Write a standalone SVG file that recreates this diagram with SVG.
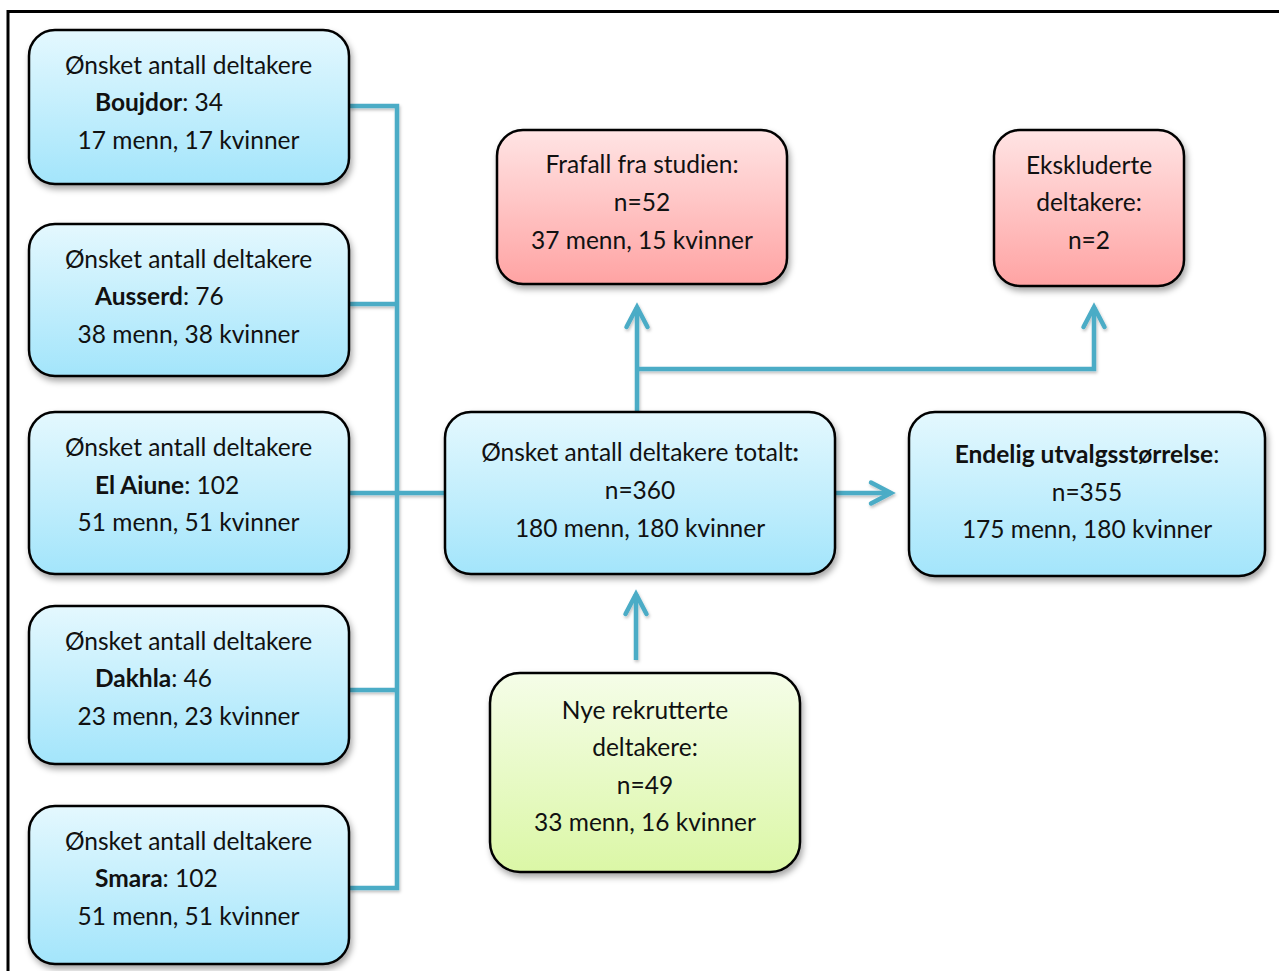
<svg xmlns="http://www.w3.org/2000/svg" width="1279" height="971" viewBox="0 0 1279 971">
<style>
.box{stroke:#000;stroke-width:2.5}
.blue{fill:url(#gBlue)}
.pink{fill:url(#gPink)}
.green{fill:url(#gGreen)}
text{font-family:Lato,"Liberation Sans",sans-serif;font-size:24.5px;fill:#111}
.c{text-anchor:middle}
.b{font-weight:bold}
.conn{fill:none;stroke:#4BACC6;stroke-width:4.5}
</style>
<defs>
<linearGradient id="gBlue" x1="0" y1="0" x2="0" y2="1"><stop offset="0" stop-color="#E4F8FE"/><stop offset="1" stop-color="#A3E5FB"/></linearGradient>
<linearGradient id="gPink" x1="0" y1="0" x2="0" y2="1"><stop offset="0" stop-color="#FFE4E4"/><stop offset="1" stop-color="#FFA3A3"/></linearGradient>
<linearGradient id="gGreen" x1="0" y1="0" x2="0" y2="1"><stop offset="0" stop-color="#F5FDE8"/><stop offset="1" stop-color="#DBF7A6"/></linearGradient>
<filter id="sh" x="-10%" y="-10%" width="130%" height="140%"><feDropShadow dx="2" dy="4" stdDeviation="3" flood-color="#000" flood-opacity="0.35"/></filter>
<filter id="shc" x="-10%" y="-10%" width="130%" height="130%"><feDropShadow dx="1" dy="2" stdDeviation="1.5" flood-color="#000" flood-opacity="0.25"/></filter>
<marker id="arr" markerUnits="userSpaceOnUse" markerWidth="40" markerHeight="40" viewBox="-30 -15 40 30" refX="0" refY="0" orient="auto">
<path d="M-20,-10.5 L0,0 L-20,10.5" fill="none" stroke="#4BACC6" stroke-width="4.5" stroke-linecap="round" stroke-linejoin="miter"/>
</marker>
</defs>
<rect x="8" y="11.5" width="1320" height="1020" fill="#fff" stroke="#000" stroke-width="3"/>

<g id="connectors" class="conn" filter="url(#shc)">
<path d="M349,106 H397 V888 H349"/>
<path d="M349,304 H397"/>
<path d="M349,493 H445"/>
<path d="M349,690 H397"/>
<path d="M637,412 V307" marker-end="url(#arr)"/>
<path d="M637,369 H1094 V307" marker-end="url(#arr)"/>
<path d="M835,493 H891" marker-end="url(#arr)"/>
<path d="M636,660 V594" marker-end="url(#arr)"/>
</g>

<g id="boujdor">
<rect class="box blue" filter="url(#sh)" x="29" y="30" width="320" height="154" rx="26"/>
<text class="c" x="188.5" y="74">Ønsket antall deltakere</text>
<text x="95" y="111"><tspan class="b">Boujdor</tspan>: 34</text>
<text class="c" x="188.5" y="149">17 menn, 17 kvinner</text>
</g>
<g id="ausserd">
<rect class="box blue" filter="url(#sh)" x="29" y="224" width="320" height="152" rx="26"/>
<text class="c" x="188.5" y="268">Ønsket antall deltakere</text>
<text x="95" y="305"><tspan class="b">Ausserd</tspan>: 76</text>
<text class="c" x="188.5" y="343">38 menn, 38 kvinner</text>
</g>
<g id="elaiune">
<rect class="box blue" filter="url(#sh)" x="29" y="412" width="320" height="162" rx="26"/>
<text class="c" x="188.5" y="456">Ønsket antall deltakere</text>
<text x="95" y="494"><tspan class="b">El Aiune</tspan>: 102</text>
<text class="c" x="188.5" y="531">51 menn, 51 kvinner</text>
</g>
<g id="dakhla">
<rect class="box blue" filter="url(#sh)" x="29" y="606" width="320" height="158" rx="26"/>
<text class="c" x="188.5" y="650">Ønsket antall deltakere</text>
<text x="95" y="687"><tspan class="b">Dakhla</tspan>: 46</text>
<text class="c" x="188.5" y="725">23 menn, 23 kvinner</text>
</g>
<g id="smara">
<rect class="box blue" filter="url(#sh)" x="29" y="806" width="320" height="158" rx="26"/>
<text class="c" x="188.5" y="850">Ønsket antall deltakere</text>
<text x="95" y="887"><tspan class="b">Smara</tspan>: 102</text>
<text class="c" x="188.5" y="925">51 menn, 51 kvinner</text>
</g>

<g id="total">
<rect class="box blue" filter="url(#sh)" x="445" y="412" width="390" height="162" rx="26"/>
<text class="c" x="640" y="461">Ønsket antall deltakere totalt<tspan class="b">:</tspan></text>
<text class="c" x="640" y="499">n=360</text>
<text class="c" x="640" y="537">180 menn, 180 kvinner</text>
</g>
<g id="frafall">
<rect class="box pink" filter="url(#sh)" x="497" y="130" width="290" height="154" rx="26"/>
<text class="c" x="642" y="173">Frafall fra studien:</text>
<text class="c" x="642" y="211">n=52</text>
<text class="c" x="642" y="249">37 menn, 15 kvinner</text>
</g>
<g id="ekskluderte">
<rect class="box pink" filter="url(#sh)" x="994" y="130" width="190" height="156" rx="26"/>
<text class="c" x="1089" y="174">Ekskluderte</text>
<text class="c" x="1089" y="211">deltakere:</text>
<text class="c" x="1089" y="249">n=2</text>
</g>
<g id="endelig">
<rect class="box blue" filter="url(#sh)" x="909" y="412" width="356" height="164" rx="26"/>
<text class="c" x="1087" y="463"><tspan class="b">Endelig utvalgsstørrelse</tspan>:</text>
<text class="c" x="1087" y="501">n=355</text>
<text class="c" x="1087" y="538">175 menn, 180 kvinner</text>
</g>
<g id="nye">
<rect class="box green" filter="url(#sh)" x="490" y="673" width="310" height="199" rx="30"/>
<text class="c" x="645" y="719">Nye rekrutterte</text>
<text class="c" x="645" y="756">deltakere:</text>
<text class="c" x="645" y="794">n=49</text>
<text class="c" x="645" y="831">33 menn, 16 kvinner</text>
</g>
</svg>
